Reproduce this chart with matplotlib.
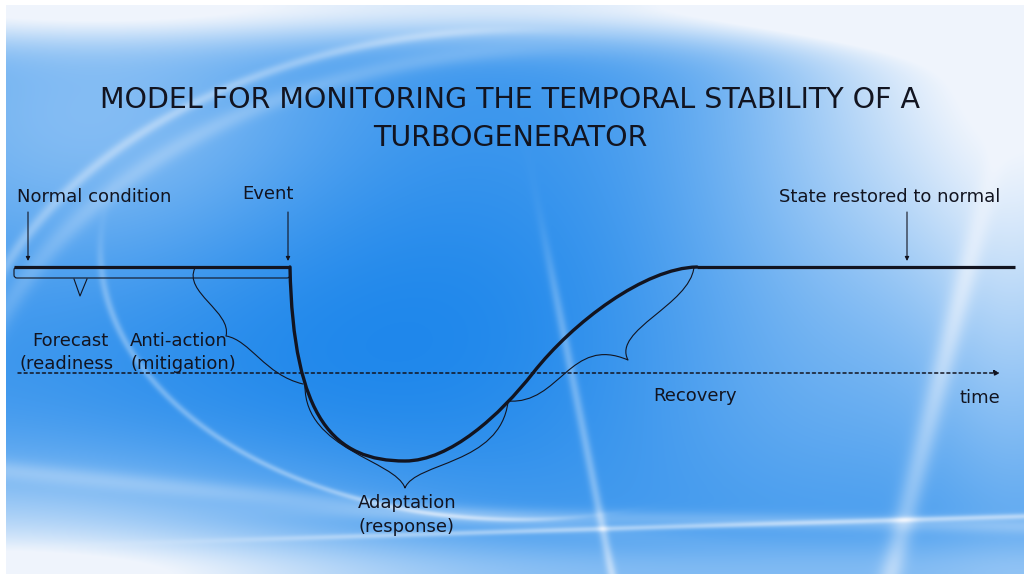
import matplotlib.pyplot as plt
import numpy as np
from matplotlib.path import Path
from matplotlib.patches import PathPatch, FancyBboxPatch

plt.rcParams['font.family'] = ['DejaVu Sans']

# canvas is laid out in pixel units, y grows downward
W, H = 1024, 578
baseline_y = 267      # normal operating level
time_axis_y = 373     # dotted time axis
line_start, event_x, restore_x, line_end = 14, 290, 697, 1015

# main response curve as cubic Bezier pieces: (start, ctrl1, ctrl2, end)
drop_seg = [(290, 267), (293, 420), (335, 461), (405, 461)]
rise_seg1 = [(405, 461), (450, 461), (500, 415), (533, 373)]
rise_seg2 = [(533, 373), (573, 322), (645, 268), (697, 267)]

# curly braces marking the phases
brace_anti = [[(195, 268), (183, 292), (232, 312), (226, 336)],
              [(226, 336), (250, 340), (265, 375), (303, 384)]]
brace_adapt = [[(305, 386), (305, 450), (395, 460), (405, 488)],
               [(405, 488), (415, 462), (500, 465), (508, 402)]]
brace_recov = [[(508, 401), (560, 405), (570, 335), (628, 360)],
               [(628, 360), (612, 330), (690, 305), (694, 267)]]
forecast_notch_x = [74, 80, 87]
forecast_notch_y = [279, 296, 279]

title_lines = ["MODEL FOR MONITORING THE TEMPORAL STABILITY OF A", "TURBOGENERATOR"]
labels = [
    ("Normal condition", 17, 197, "left"),
    ("Event", 268, 194, "center"),
    ("State restored to normal", 1000, 197, "right"),
    ("Forecast", 70, 341, "center"),
    ("(readiness", 67, 364, "center"),
    ("Anti-action", 130, 341, "left"),
    ("(mitigation)", 130, 364, "left"),
    ("Recovery", 695, 396, "center"),
    ("time", 1000, 398, "right"),
    ("Adaptation", 358, 503, "left"),
    ("(response)", 358, 527, "left"),
]
pointer_x = [28, 288, 907]

fig = plt.figure(figsize=(W / 100, H / 100), dpi=100)
ax = fig.add_axes([0, 0, 1, 1])
ax.set_xlim(0, W)
ax.set_ylim(H, 0)
ax.axis("off")

# --- blue swoosh background ---
xs = np.linspace(6, W, 1018)
ys = np.linspace(5, 574, 569)
X, Y = np.meshgrid(xs, ys)


def glow(cx, cy, sx, sy, amt):
    return amt * np.exp(-((X - cx) / sx) ** 2 - ((Y - cy) / sy) ** 2)


def ramp(v, edge, soft):
    # smooth 0 -> 1 step used to fade streaks in and out
    return 1 / (1 + np.exp(-(v - edge) / soft))


def streak(dist, width, amt, mask=1.0):
    return amt * np.exp(-(dist / width) ** 2) * mask


L = np.full_like(X, 0.17)
L -= glow(380, 330, 330, 200, 0.16)             # deep blue core
L += glow(800, 420, 200, 120, 0.10)
L += glow(880, 240, 230, 170, 0.22)
L += 0.70 * np.exp(-((Y - 5) / 38) ** 2)        # pale strip along the top
L += glow(1024, 0, 260, 240, 0.85)             # washed-out upper right
L += glow(1024, 330, 90, 240, 0.25)
L += glow(0, 578, 380, 110, 0.70)               # pale lower left
L += 0.28 * np.exp(-((Y - 575) / 35) ** 2)
L += glow(100, 120, 240, 160, 0.35)

# thin light swooshes
e1 = np.hypot((X - 520) / 420, (Y - 250) / 270)
L += streak(e1 - 1, 0.010, 0.28, ramp(-X, -560, 25) * ramp(Y, 260, 20))
e2 = np.hypot((X - 520) / 560, (Y - 420) / 390)
L += streak(e2 - 1, 0.012, 0.22, ramp(-X, -480, 40) * ramp(-Y, -400, 30))
e3 = np.hypot((X - 560) / 600, (Y - 470) / 420)
L += streak(e3 - 1, 0.020, 0.15, ramp(-X, -500, 40) * ramp(-Y, -450, 30))
L += streak(Y - (532 - 0.03 * (X - 512)), 3, 0.32, ramp(X, 300, 60))
L += streak(Y - (518 + 0.02 * (X - 600)), 8, 0.18, ramp(X, 350, 60))
L += streak(Y - (470 + 0.10 * X), 10, 0.16, ramp(-X, -600, 60))
L += streak(X - (555 + 0.2 * (Y - 290)), 5, 0.28, ramp(Y, 260, 30))
L += streak(X - (960 - 0.25 * (Y - 300)), 12, 0.26, ramp(Y, 250, 40))

t = np.clip(L, 0, 1)[..., None]
c_light = np.array([0.94, 0.96, 0.99])
c_dark = np.array([0.10, 0.52, 0.92])
img = c_dark * (1 - t) + c_light * t
ax.imshow(img, extent=(6, W, 574, 5), aspect="auto", zorder=0, interpolation="bilinear")

ink = "#121420"


def bezier(segments, lw):
    verts, codes = [], []
    for i, seg in enumerate(segments):
        if i == 0:
            verts.append(seg[0])
            codes.append(Path.MOVETO)
        verts += seg[1:]
        codes += [Path.CURVE4] * 3
    ax.add_patch(PathPatch(Path(verts, codes), fc="none", ec=ink, lw=lw,
                           capstyle="round", joinstyle="round", zorder=3))


# normal level before the event and after restoration
ax.plot([line_start, event_x], [baseline_y, baseline_y], color=ink, lw=2.3,
        solid_capstyle="butt", zorder=4)
ax.plot([restore_x, line_end], [baseline_y, baseline_y], color=ink, lw=2.3,
        solid_capstyle="butt", zorder=4)
bezier([drop_seg, rise_seg1, rise_seg2], 2.4)

# thin bracket under the normal-condition level
ax.add_patch(FancyBboxPatch((line_start, baseline_y), event_x - line_start, 11,
                            boxstyle="round,pad=0,rounding_size=3",
                            fc="none", ec=ink, lw=0.8, zorder=3))
ax.plot(forecast_notch_x, forecast_notch_y, color=ink, lw=0.8, zorder=3)

for br in (brace_anti, brace_adapt, brace_recov):
    bezier(br, 0.8)

# dotted time axis
ax.annotate("", xy=(1000, time_axis_y), xytext=(18, time_axis_y),
            arrowprops=dict(arrowstyle="-|>", color=ink, lw=1.1, ls=(0, (2, 2)),
                            mutation_scale=8, shrinkA=0, shrinkB=0), zorder=3)

# pointers from labels down to the level line
for px in pointer_x:
    ax.annotate("", xy=(px, 261), xytext=(px, 212),
                arrowprops=dict(arrowstyle="-|>", color=ink, lw=0.8,
                                mutation_scale=6, shrinkA=0, shrinkB=0), zorder=3)

for i, line in enumerate(title_lines):
    ax.text(510, 100 + 38 * i, line, ha="center", va="center", fontsize=20.5,
            color=ink, zorder=5)

for text, x, y, ha in labels:
    ax.text(x, y, text, ha=ha, va="center", fontsize=13, color=ink, zorder=5)

fig.savefig("out.png", dpi=100, facecolor="white")
